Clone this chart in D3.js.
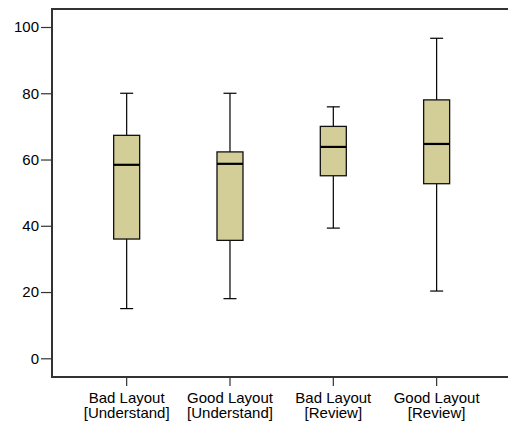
<!DOCTYPE html>
<html><head><meta charset="utf-8">
<script src="https://cdn.jsdelivr.net/npm/d3@7/dist/d3.min.js"></script>
<style>body{margin:0;background:#fff}svg{display:block}text{font-family:"Liberation Sans",Arial,sans-serif}</style>
</head><body><div id="chart"></div>
<script>
const categories = [["Bad Layout","[Understand]"],["Good Layout","[Understand]"],["Bad Layout","[Review]"],["Good Layout","[Review]"]];
const whiskerLow  = [15, 18, 39.3, 20.3];
const q1          = [36, 35.6, 55.1, 52.7];
const median      = [58.4, 58.7, 63.8, 64.7];
const q3          = [67.3, 62.3, 70, 78];
const whiskerHigh = [80, 80, 75.9, 96.6];
const yTicks = [0, 20, 40, 60, 80, 100];

(function () {
const W = 508, H = 426;
const svg = d3.select("#chart").append("svg").attr("width", W).attr("height", H);
const plotLeft = 52, plotTop = 9, plotBottom = 377;
const y = d3.scaleLinear().domain([0, 100]).range([358.3, 27]);
const keys = categories.map((c, i) => i);
const x = d3.scaleBand().domain(keys).range([75, 488.3]).padding(0);
const bw = 26, cap = 13;

const data = keys.map(i => ({i, lo: whiskerLow[i], q1: q1[i], med: median[i], q3: q3[i], hi: whiskerHigh[i]}));

svg.append("line").attr("x1", plotLeft).attr("x2", W).attr("y1", plotTop).attr("y2", plotTop).attr("stroke", "#333").attr("stroke-width", 2);

const g = svg.selectAll("g.box").data(data).join("g").attr("class", "box")
  .attr("transform", d => `translate(${x(d.i) + x.bandwidth() / 2},0)`);
g.append("line").attr("x1", 0).attr("x2", 0).attr("y1", d => y(d.hi)).attr("y2", d => y(d.lo)).attr("stroke", "#000").attr("stroke-width", 1.2);
g.append("line").attr("x1", -cap/2).attr("x2", cap/2).attr("y1", d => y(d.hi)).attr("y2", d => y(d.hi)).attr("stroke", "#000").attr("stroke-width", 1.2);
g.append("line").attr("x1", -cap/2).attr("x2", cap/2).attr("y1", d => y(d.lo)).attr("y2", d => y(d.lo)).attr("stroke", "#000").attr("stroke-width", 1.2);
g.append("rect").attr("x", -bw/2).attr("width", bw).attr("y", d => y(d.q3)).attr("height", d => y(d.q1) - y(d.q3))
  .attr("fill", "#d3ce97").attr("stroke", "#111").attr("stroke-width", 1.3);
g.append("line").attr("x1", -bw/2).attr("x2", bw/2).attr("y1", d => y(d.med)).attr("y2", d => y(d.med)).attr("stroke", "#000").attr("stroke-width", 2.2);

const yAxis = svg.append("g").attr("transform", `translate(${plotLeft},0)`)
  .call(d3.axisLeft(y).tickValues(yTicks).tickSize(11).tickPadding(2).tickSizeOuter(0));
yAxis.select(".domain").remove();
yAxis.selectAll(".tick line").attr("stroke", "#333").attr("stroke-width", 1.2);
yAxis.selectAll(".tick text").attr("font-size", 15).attr("fill", "#000");
svg.append("line").attr("x1", plotLeft).attr("x2", plotLeft).attr("y1", plotTop - 1).attr("y2", plotBottom + 1).attr("stroke", "#333").attr("stroke-width", 2);

const xAxis = svg.append("g").attr("transform", `translate(0,${plotBottom})`)
  .call(d3.axisBottom(x).tickSize(9).tickFormat(""));
xAxis.select(".domain").remove();
xAxis.selectAll(".tick line").attr("stroke", "#333").attr("stroke-width", 1.2);
xAxis.selectAll(".tick").append("text").attr("font-size", 15).attr("fill", "#000").attr("text-anchor", "middle")
  .selectAll("tspan").data(i => categories[i]).join("tspan")
  .attr("x", 0).attr("y", (d, j) => 26.3 + j * 14.4).text(d => d);
svg.append("line").attr("x1", plotLeft - 1).attr("x2", W).attr("y1", plotBottom).attr("y2", plotBottom).attr("stroke", "#333").attr("stroke-width", 2);
})();
</script></body></html>
